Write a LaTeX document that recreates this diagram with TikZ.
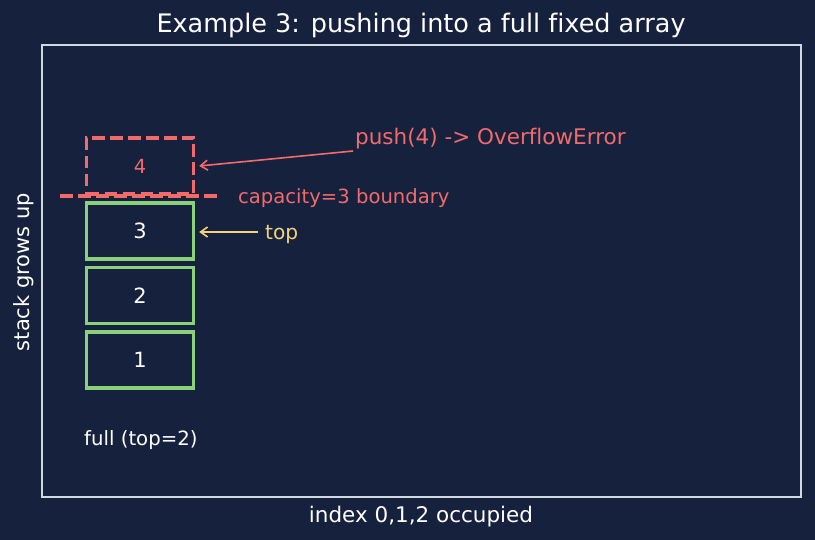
\documentclass[tikz,border=0pt]{standalone}
\usepackage{fontspec}
\setmainfont[Ligatures={NoCommon}]{DejaVu Sans}
\usetikzlibrary{arrows.meta}
\definecolor{bg}{HTML}{16213E}
\definecolor{frame}{HTML}{D0D8E0}
\definecolor{grn}{HTML}{8BD07A}
\definecolor{red}{HTML}{F26B6B}
\definecolor{yel}{HTML}{F2D27A}
\tikzset{
  cell/.style={draw=grn, line width=3.4pt, minimum width=107pt, minimum height=56pt, inner sep=0pt, text=white, font=\fontsize{21}{21}\selectfont},
  ghost/.style={draw=red, line width=3.4pt, dash pattern=on 12.5pt off 5.5pt, minimum width=107pt, minimum height=56pt, inner sep=0pt, text=red, font=\fontsize{19.5}{19.5}\selectfont},
  lbl/.style={inner sep=0pt, font=\fontsize{20}{20}\selectfont},
  arr/.style={-{Straight Barb[length=7pt,width=10pt]}, line width=1.6pt}
}
\begin{document}
\begin{tikzpicture}[x=1pt,y=-1pt]
\fill[bg] (0,0) rectangle (815,540);
\useasboundingbox (0,0) rectangle (815,540);
\draw[frame, line width=1.4pt] (42,45) rectangle (801,497);
\node[lbl, text=white, font=\fontsize{25.5}{25.5}\selectfont] (title) at (421,25.5) {Example 3: pushing into a full fixed array};
\node[cell] (b1) at (140,360) {1};
\node[cell] (b2) at (140,295.5) {2};
\node[cell] (b3) at (140,231) {3};
\node[ghost] (b4) at (140,166) {4};
\coordinate (capL) at (60,196);
\coordinate (capR) at (221,196);
\draw[red, line width=3.4pt, dash pattern=on 12.5pt off 5.5pt] (capL) -- (capR);
\node[lbl, text=red, anchor=west, font=\fontsize{19.6}{19.6}\selectfont] (cap) at (238,198) {capacity=3 boundary};
\node[lbl, text=red, anchor=west, font=\fontsize{21.5}{21.5}\selectfont] (push) at (355,138.5) {push(4) -> OverflowError};
\coordinate (pushS) at (353,151);
\draw[arr, red] (pushS) -- ([xshift=4pt]b4.east);
\node[lbl, text=yel, anchor=west, font=\fontsize{20.2}{20.2}\selectfont] (top) at (265,234.5) {top};
\coordinate (topS) at (258,232);
\draw[arr, yel] (topS) -- ([xshift=4pt]b3.east |- topS);
\node[lbl, text=white, anchor=west, font=\fontsize{19.7}{19.7}\selectfont] (full) at (84,440) {full (top=2)};
\node[lbl, text=white, rotate=90, font=\fontsize{21}{21}\selectfont] (ylab) at (24,272) {stack grows up};
\node[lbl, text=white, font=\fontsize{21.5}{21.5}\selectfont] (xlab) at (421,517) {index 0,1,2 occupied};
\end{tikzpicture}
\end{document}
